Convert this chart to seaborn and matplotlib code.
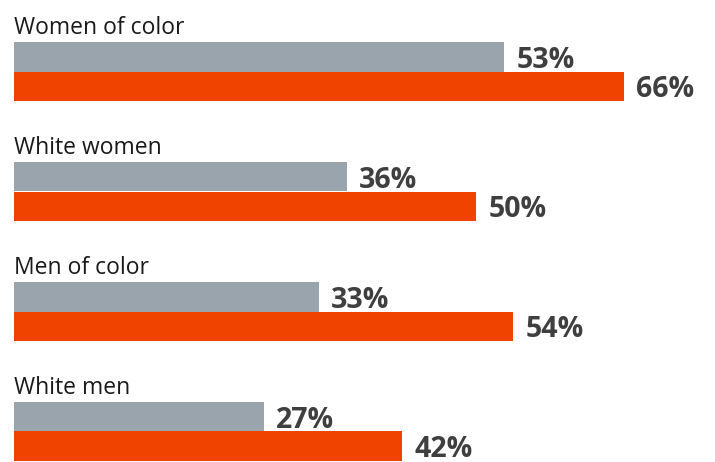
import matplotlib
matplotlib.use("Agg")
import matplotlib.pyplot as plt
from matplotlib import font_manager as fm
import seaborn as sns
import pandas as pd

# Share of each group, earlier survey (gray) vs. later survey (orange)
groups = ["Women of color", "White women", "Men of color", "White men"]
earlier = [53, 36, 33, 27]
later = [66, 50, 54, 42]
series = ["Earlier", "Later"]
colors = ["#9aa4ad", "#f04300"]

df = pd.DataFrame({
    "group": groups * 2,
    "share": earlier + later,
    "series": [series[0]] * len(groups) + [series[1]] * len(groups),
})

sns.set_theme(style="white")
plt.rcParams["font.family"] = ["Open Sans", "DejaVu Sans"]


def bold_font(size):
    """Pick a normal-width bold face for the value labels."""
    for fam in ("Open Sans", "Noto Sans", "Lato"):
        for f in fm.fontManager.ttflist:
            if (f.name == fam and f.weight in (700, "bold")
                    and f.stretch == "normal" and f.style == "normal"):
                return fm.FontProperties(fname=f.fname, size=size)
    return fm.FontProperties(family="DejaVu Sans", weight="bold", size=size)


W, H, DPI = 715, 462, 100
fig = plt.figure(figsize=(W / DPI, H / DPI), dpi=DPI)
ax = fig.add_axes([0, 0, 1, 1])

sns.barplot(
    data=df, y="group", x="share", hue="series", order=groups,
    hue_order=series, palette=colors, orient="h", width=0.49,
    gap=0, linewidth=0, saturation=1, legend=False, ax=ax,
)

# pixel-based framing: ~9.25 px per percentage point, bars start 14 px in
px_per_pct = 9.25
ax.set_xlim(-14 / px_per_pct, (W - 14) / px_per_pct)
px_per_cat = 120.0
first_center = 71.5
ax.set_ylim((H - first_center) / px_per_cat, -first_center / px_per_cat)
ax.axis("off")

# group titles above each pair of bars
bar_h = 0.49 / 2
for i, name in enumerate(groups):
    ax.text(0, i - bar_h - 8 / px_per_cat, name, fontsize=16.5,
            color="#1a1a1a", va="baseline", ha="left")

# value labels at the end of each bar
value_font = bold_font(20.5)
for cont in ax.containers:
    for patch in cont.patches:
        val = patch.get_width()
        yc = patch.get_y() + patch.get_height() / 2
        ax.text(val + 12 / px_per_pct, yc + 11 / px_per_cat, f"{val:.0f}%",
                fontproperties=value_font, color="#3f3f3f",
                va="baseline", ha="left")

fig.savefig("out.png", dpi=DPI)
